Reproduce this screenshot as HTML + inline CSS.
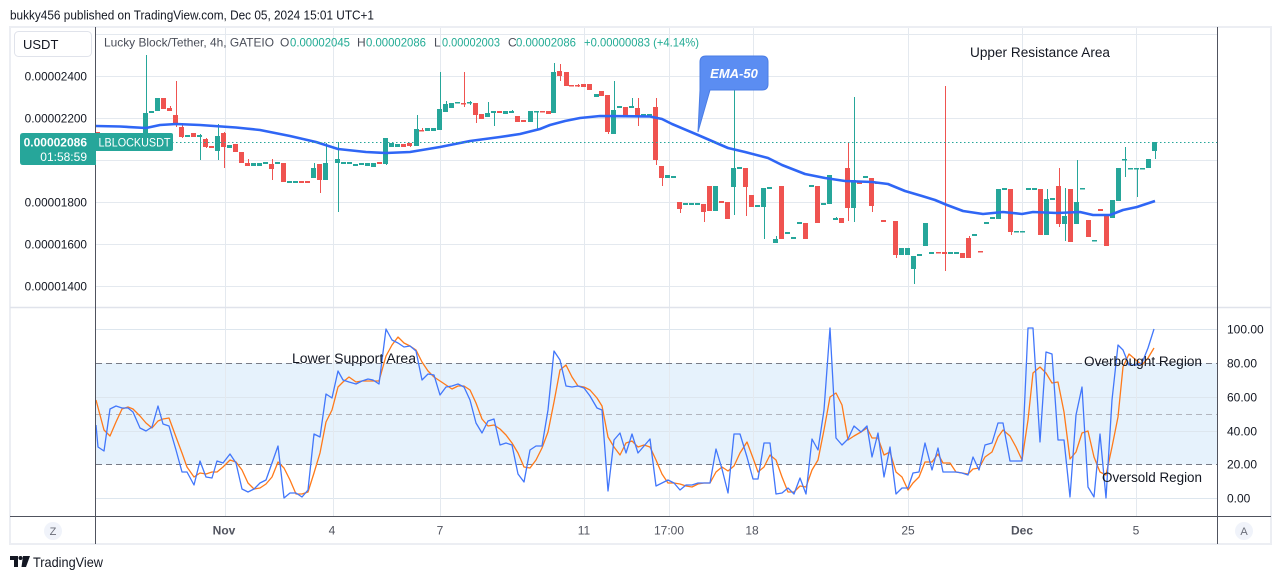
<!DOCTYPE html>
<html><head><meta charset="utf-8"><style>
html,body{margin:0;padding:0;background:#fff;}
svg{display:block;font-family:"Liberation Sans",Arial,sans-serif;}
</style></head><body>
<svg width="1281" height="579" viewBox="0 0 1281 579" xmlns="http://www.w3.org/2000/svg">
<defs>
<clipPath id="mc"><rect x="96" y="28" width="1121" height="279"/></clipPath>
<clipPath id="oc"><rect x="96" y="308" width="1121" height="208"/></clipPath>
</defs>
<rect width="1281" height="579" fill="#fff"/>
<text x="10" y="19.5" font-size="13" fill="#131722" textLength="364" lengthAdjust="spacingAndGlyphs">bukky456 published on TradingView.com, Dec 05, 2024 15:01 UTC+1</text>

<!-- frame -->
<rect x="10" y="27" width="1261" height="517" fill="none" stroke="#eceef3" stroke-width="2"/>

<!-- main gridlines -->
<g stroke="#e4e9ef" stroke-width="1">
<line x1="96" y1="34.5" x2="1217" y2="34.5"/>
<line x1="96" y1="76.5" x2="1217" y2="76.5"/>
<line x1="96" y1="118.5" x2="1217" y2="118.5"/>
<line x1="96" y1="160.5" x2="1217" y2="160.5"/>
<line x1="96" y1="202.5" x2="1217" y2="202.5"/>
<line x1="96" y1="244.5" x2="1217" y2="244.5"/>
<line x1="96" y1="286.5" x2="1217" y2="286.5"/>
</g>

<!-- oscillator band -->
<rect x="96" y="363" width="1121" height="101.5" fill="#e6f2fc"/>
<g stroke="#dde6ee" stroke-width="1">
<line x1="96" y1="329.5" x2="1217" y2="329.5"/>
<line x1="96" y1="397.5" x2="1217" y2="397.5"/>
<line x1="96" y1="431.5" x2="1217" y2="431.5"/>
<line x1="96" y1="498.5" x2="1217" y2="498.5"/>
</g>
<!-- vertical gridlines -->
<g stroke="#e4e9ef" stroke-width="1">
<line x1="225.5" y1="28" x2="225.5" y2="516"/>
<line x1="333.5" y1="28" x2="333.5" y2="516"/>
<line x1="440.5" y1="28" x2="440.5" y2="516"/>
<line x1="584.5" y1="28" x2="584.5" y2="516"/>
<line x1="669.5" y1="28" x2="669.5" y2="516"/>
<line x1="753.5" y1="28" x2="753.5" y2="516"/>
<line x1="908.5" y1="28" x2="908.5" y2="516"/>
<line x1="1022.5" y1="28" x2="1022.5" y2="516"/>
<line x1="1136.5" y1="28" x2="1136.5" y2="516"/>
</g>
<g stroke-width="1" stroke-dasharray="6 4">
<line x1="96" y1="363.5" x2="1217" y2="363.5" stroke="#787b86"/>
<line x1="96" y1="414.5" x2="1217" y2="414.5" stroke="#b2b5be"/>
<line x1="96" y1="464.5" x2="1217" y2="464.5" stroke="#787b86"/>
</g>

<!-- candles -->
<g clip-path="url(#mc)">
<g fill="#26a69a">
<rect x="143" y="113" width="5" height="20"/><rect x="146" y="55" width="1" height="95"/>
<rect x="149" y="111" width="5" height="2"/>
<rect x="155" y="98" width="5" height="13"/>
<rect x="185" y="135" width="5" height="2"/>
<rect x="197" y="135" width="5" height="2"/><rect x="200" y="134" width="1" height="26"/>
<rect x="215" y="136" width="5" height="15"/><rect x="218" y="124" width="1" height="36"/>
<rect x="227" y="145" width="5" height="3"/>
<rect x="251" y="163" width="5" height="3"/>
<rect x="257" y="163" width="5" height="3"/>
<rect x="263" y="162" width="5" height="2"/>
<rect x="275" y="162" width="5" height="2"/>
<rect x="287" y="181" width="5" height="2"/>
<rect x="293" y="181" width="5" height="2"/>
<rect x="311" y="168" width="5" height="10"/><rect x="314" y="163" width="1" height="15"/>
<rect x="323" y="163" width="5" height="17"/><rect x="326" y="143" width="1" height="37"/>
<rect x="335" y="159" width="5" height="4"/><rect x="338" y="142" width="1" height="70"/>
<rect x="341" y="162" width="5" height="2"/>
<rect x="347" y="162" width="5" height="2"/>
<rect x="353" y="164" width="5" height="2"/>
<rect x="359" y="163" width="5" height="2"/>
<rect x="365" y="163" width="5" height="3"/>
<rect x="371" y="163" width="5" height="4"/>
<rect x="383" y="138" width="5" height="26"/><rect x="386" y="138" width="1" height="27"/>
<rect x="389" y="143" width="5" height="4"/>
<rect x="395" y="144" width="5" height="3"/>
<rect x="414" y="129" width="5" height="17"/><rect x="417" y="115" width="1" height="31"/>
<rect x="425" y="128" width="5" height="3"/>
<rect x="431" y="128" width="5" height="3"/>
<rect x="437" y="109" width="5" height="21"/><rect x="440" y="72" width="1" height="58"/>
<rect x="443" y="104" width="5" height="8"/><rect x="446" y="101" width="1" height="11"/>
<rect x="449" y="103" width="5" height="5"/>
<rect x="455" y="102" width="5" height="1.5"/>
<rect x="467" y="102" width="5" height="1.5"/><rect x="470" y="101" width="1" height="4"/>
<rect x="485" y="113" width="5" height="4"/><rect x="488" y="102" width="1" height="15"/>
<rect x="491" y="111" width="5" height="2"/><rect x="494" y="111" width="1" height="15"/>
<rect x="503" y="111" width="5" height="3"/>
<rect x="509" y="111" width="5" height="2"/><rect x="512" y="110" width="1" height="3"/>
<rect x="528" y="111" width="5" height="11"/>
<rect x="534" y="111" width="5" height="1.5"/><rect x="537" y="111" width="1" height="18"/>
<rect x="551" y="72" width="5" height="41"/><rect x="554" y="63" width="1" height="50"/>
<rect x="594" y="94" width="5" height="3"/>
<rect x="611" y="110" width="5" height="24"/><rect x="614" y="81" width="1" height="53"/>
<rect x="617" y="106" width="5" height="2"/>
<rect x="629" y="106" width="5" height="2"/><rect x="632" y="98" width="1" height="10"/>
<rect x="641" y="114" width="5" height="2"/>
<rect x="647" y="114" width="5" height="2"/>
<rect x="665" y="175" width="5" height="3"/>
<rect x="671" y="176" width="5" height="2"/>
<rect x="683" y="203" width="5" height="2"/>
<rect x="689" y="203" width="5" height="2"/>
<rect x="695" y="203" width="5" height="2"/>
<rect x="713" y="186" width="5" height="25"/>
<rect x="731" y="168" width="5" height="19"/><rect x="734" y="81" width="1" height="134"/>
<rect x="737" y="167" width="5" height="2"/>
<rect x="755" y="205" width="5" height="2"/>
<rect x="761" y="188" width="5" height="19"/><rect x="764" y="188" width="1" height="51"/>
<rect x="767" y="187" width="5" height="2"/>
<rect x="773" y="239" width="5" height="4"/><rect x="776" y="236" width="1" height="7"/>
<rect x="785" y="232" width="5" height="2"/>
<rect x="791" y="237" width="5" height="2"/>
<rect x="797" y="222" width="5" height="2"/>
<rect x="809" y="185" width="5" height="2"/>
<rect x="821" y="203" width="5" height="2"/>
<rect x="827" y="175" width="5" height="29"/>
<rect x="833" y="218" width="5" height="2"/><rect x="836" y="217" width="1" height="3"/>
<rect x="851" y="180" width="5" height="28"/><rect x="854" y="97" width="1" height="125"/>
<rect x="863" y="176" width="5" height="2"/>
<rect x="899" y="248" width="5" height="7"/>
<rect x="905" y="248" width="5" height="7"/>
<rect x="911" y="256" width="5" height="13"/><rect x="914" y="256" width="1" height="28"/>
<rect x="917" y="254" width="5" height="2"/>
<rect x="923" y="223" width="5" height="23"/>
<rect x="929" y="252" width="5" height="2"/>
<rect x="948" y="252" width="5" height="2"/>
<rect x="954" y="252" width="5" height="2"/>
<rect x="972" y="234" width="5" height="2"/>
<rect x="984" y="222" width="5" height="2"/>
<rect x="990" y="217" width="5" height="2"/>
<rect x="996" y="189" width="5" height="30"/>
<rect x="1002" y="188" width="5" height="2"/>
<rect x="1014" y="231" width="5" height="1.5"/>
<rect x="1020" y="231" width="5" height="1.5"/>
<rect x="1026" y="188" width="5" height="2"/>
<rect x="1032" y="188" width="5" height="2"/>
<rect x="1044" y="199" width="5" height="36"/><rect x="1047" y="189" width="1" height="46"/>
<rect x="1050" y="198" width="5" height="2"/>
<rect x="1062" y="216" width="5" height="8"/><rect x="1065" y="188" width="1" height="53"/>
<rect x="1074" y="202" width="5" height="22"/><rect x="1077" y="160" width="1" height="64"/>
<rect x="1080" y="188" width="5" height="1.5"/>
<rect x="1092" y="240" width="5" height="1.5"/>
<rect x="1110" y="200" width="5" height="18"/>
<rect x="1116" y="168" width="5" height="33"/>
<rect x="1122" y="159" width="5" height="1.5"/><rect x="1125" y="147" width="1" height="30"/>
<rect x="1128" y="168" width="5" height="1.5"/>
<rect x="1134" y="168" width="5" height="1.5"/><rect x="1137" y="168" width="1" height="29"/>
<rect x="1140" y="168" width="5" height="1.5"/>
<rect x="1146" y="159" width="5" height="9"/>
<rect x="1152" y="142" width="5" height="9"/><rect x="1155" y="142" width="1" height="17"/>
</g>
<g fill="#ef5350">
<rect x="95" y="132" width="5" height="3"/>
<rect x="161" y="98" width="5" height="11"/>
<rect x="167" y="108" width="5" height="3"/><rect x="170" y="106" width="1" height="5"/>
<rect x="173" y="115" width="5" height="10"/><rect x="176" y="81" width="1" height="46"/>
<rect x="179" y="127" width="5" height="10"/><rect x="182" y="123" width="1" height="15"/>
<rect x="191" y="133" width="5" height="4"/>
<rect x="203" y="139" width="5" height="8"/><rect x="206" y="138" width="1" height="10"/>
<rect x="209" y="146" width="5" height="2"/>
<rect x="221" y="133" width="5" height="14"/><rect x="224" y="132" width="1" height="36"/>
<rect x="233" y="144" width="5" height="8"/>
<rect x="239" y="152" width="5" height="11"/>
<rect x="245" y="163" width="5" height="3"/><rect x="248" y="159" width="1" height="7"/>
<rect x="269" y="164" width="5" height="5"/><rect x="272" y="159" width="1" height="21"/>
<rect x="281" y="163" width="5" height="19"/>
<rect x="299" y="181" width="5" height="2"/>
<rect x="305" y="181" width="5" height="2"/>
<rect x="317" y="164" width="5" height="16"/><rect x="320" y="164" width="1" height="29"/>
<rect x="377" y="162" width="5" height="2"/>
<rect x="401" y="144" width="5" height="3"/>
<rect x="407" y="143" width="5" height="3"/><rect x="410" y="143" width="1" height="4"/>
<rect x="419" y="130" width="5" height="1.5"/><rect x="422" y="128" width="1" height="3"/>
<rect x="461" y="103" width="5" height="1.5"/><rect x="464" y="72" width="1" height="35"/>
<rect x="473" y="103" width="5" height="12"/><rect x="476" y="103" width="1" height="20"/>
<rect x="479" y="114" width="5" height="5"/>
<rect x="497" y="111" width="5" height="2"/>
<rect x="515" y="116" width="5" height="6"/>
<rect x="521" y="120" width="5" height="2"/>
<rect x="540" y="111" width="5" height="1.5"/>
<rect x="546" y="111" width="5" height="3"/>
<rect x="557" y="71" width="5" height="5"/><rect x="560" y="64" width="1" height="17"/>
<rect x="564" y="72" width="5" height="14"/>
<rect x="569" y="85" width="5" height="1.5"/>
<rect x="575" y="85" width="5" height="1.5"/><rect x="578" y="84" width="1" height="3"/>
<rect x="581" y="84" width="5" height="3"/>
<rect x="587" y="84" width="5" height="6"/>
<rect x="599" y="91" width="5" height="5"/>
<rect x="605" y="95" width="5" height="37"/><rect x="608" y="95" width="1" height="39"/>
<rect x="623" y="107" width="5" height="10"/>
<rect x="635" y="108" width="5" height="9"/><rect x="638" y="98" width="1" height="28"/>
<rect x="653" y="107" width="5" height="53"/><rect x="656" y="98" width="1" height="67"/>
<rect x="659" y="166" width="5" height="12"/><rect x="662" y="166" width="1" height="20"/>
<rect x="677" y="202" width="5" height="7"/><rect x="680" y="202" width="1" height="11"/>
<rect x="701" y="204" width="5" height="8"/><rect x="704" y="204" width="1" height="18"/>
<rect x="707" y="186" width="5" height="25"/>
<rect x="719" y="201" width="5" height="2"/>
<rect x="725" y="202" width="5" height="17"/>
<rect x="743" y="168" width="5" height="19"/><rect x="746" y="168" width="1" height="48"/>
<rect x="749" y="195" width="5" height="12"/>
<rect x="779" y="186" width="5" height="53"/>
<rect x="803" y="223" width="5" height="16"/>
<rect x="815" y="186" width="5" height="37"/>
<rect x="839" y="218" width="5" height="5"/>
<rect x="845" y="168" width="5" height="40"/><rect x="848" y="142" width="1" height="79"/>
<rect x="857" y="181" width="5" height="3"/>
<rect x="869" y="178" width="5" height="28"/><rect x="872" y="178" width="1" height="34"/>
<rect x="875" y="182" width="5" height="2"/>
<rect x="881" y="220" width="5" height="2"/>
<rect x="893" y="221" width="5" height="34"/><rect x="896" y="221" width="1" height="37"/>
<rect x="936" y="252" width="5" height="1.5"/>
<rect x="942" y="252" width="5" height="2"/><rect x="945" y="86" width="1" height="185"/>
<rect x="960" y="253" width="5" height="5"/>
<rect x="966" y="238" width="5" height="20"/><rect x="969" y="236" width="1" height="22"/>
<rect x="978" y="251" width="5" height="1.5"/>
<rect x="1008" y="189" width="5" height="43"/><rect x="1011" y="189" width="1" height="46"/>
<rect x="1038" y="189" width="5" height="46"/>
<rect x="1056" y="186" width="5" height="38"/><rect x="1059" y="168" width="1" height="59"/>
<rect x="1068" y="189" width="5" height="53"/>
<rect x="1086" y="220" width="5" height="17"/>
<rect x="1098" y="209" width="5" height="2"/>
<rect x="1104" y="214" width="5" height="32"/>
</g>
<!-- EMA -->
<polyline fill="none" stroke="#2f66f5" stroke-width="2.6" stroke-linejoin="round" points="96,126 120,126.5 146,128 160,125 176,124 200,125 236,127.5 260,130 290,136 316,142 338,149 366,152 386,153 410,152 440,147 470,141 500,137 520,134 540,129 550,125 565,121 580,118 600,116 650,116.5 662,119 672,124 698,135 728,148 745,152 768,158 782,165 805,174 825,178 845,181 872,182 888,184 905,191 922,196 935,200 947,205 963,211 983,214 1003,212 1022,214 1033,212 1057,213 1080,212 1093,215 1110,215 1123,210 1137,207 1155,201"/>
<!-- price line -->
<line x1="96" y1="142.5" x2="1217" y2="142.5" stroke="#26a69a" stroke-width="1" stroke-dasharray="1.5 2.5"/>
</g>

<!-- oscillator lines -->
<g clip-path="url(#oc)" fill="none" stroke-width="1.3" stroke-linejoin="round">
<polyline stroke="#ff7a1a" points="96,400 104,430 110,436 116,422 122,409 128,407 133,409 140,416 146,423 152,428 158,421 163,419 169,418 176,437 182,453 187,467 194,477 200,473 206,474 212,472 217,472 223,467 230,460 236,462 242,470 248,483 254,489 260,488 266,484 272,477 278,462 284,468 290,480 296,494 302,494 308,492 314,473 320,453 326,422 332,410 338,387 343,382 349,377 356,382 362,381 368,381 373,381 379,381 386,356 392,345 398,337 404,343 410,346 416,350 422,362 428,371 434,377 440,381 446,385 452,389 458,386 464,386 470,390 476,403 482,419 488,426 494,425 500,429 506,435 512,443 518,453 524,467 530,468 536,460 542,448 548,432 554,402 560,370 566,365 572,377 578,386 584,387 590,390 597,398 602,406 608,437 614,447 620,455 626,443 632,441 638,447 644,445 650,447 656,460 662,474 668,483 674,483 680,484 686,486 692,487 698,484 704,483 710,483 716,472 722,467 728,471 734,466 740,453 747,442 753,458 758,472 764,467 770,455 776,460 782,477 788,492 794,492 800,486 806,487 812,470 818,460 824,430 830,397 836,393 842,405 848,440 854,436 861,432 867,428 872,438 878,438 884,455 890,452 896,472 902,477 908,490 913,483 919,477 925,462 932,462 938,454 943,463 950,463 956,472 962,473 968,474 973,469 979,468 985,457 992,452 998,437 1003,430 1010,436 1016,447 1022,460 1028,420 1033,373 1040,367 1046,373 1052,383 1058,382 1064,412 1070,459 1076,452 1082,433 1088,431 1094,457 1100,472 1106,475 1112,447 1118,417 1123,367 1129,354 1136,360 1142,365 1148,358 1154,348"/>
<polyline stroke="#4277fb" points="96,425 98,447 104,451 110,409 116,406 122,408 128,408 133,412 140,428 146,431 152,427 158,406 163,424 169,426 176,450 182,472 187,472 194,485 200,461 206,477 212,478 217,461 223,463 230,454 236,463 242,489 248,492 254,489 260,483 266,480 272,463 278,446 284,498 290,493 296,493 302,497 308,490 314,434 320,437 326,394 332,398 338,371 343,380 349,382 356,384 362,381 368,379 373,380 379,384 386,329 392,340 398,343 404,347 410,346 416,351 422,380 428,374 434,375 440,395 446,387 452,386 458,384 464,387 470,400 476,423 482,433 488,421 494,419 500,445 506,443 512,445 518,474 524,482 530,450 536,446 542,446 548,410 554,351 560,360 566,386 572,387 578,386 584,388 590,396 597,408 602,410 608,491 614,440 620,433 626,453 632,434 638,453 644,446 650,439 656,486 662,483 668,480 674,483 680,490 686,485 692,485 698,483 704,483 710,483 716,449 722,469 728,493 734,434 740,434 747,457 753,479 758,479 764,443 770,443 776,494 782,493 788,488 794,494 800,478 806,494 812,439 818,450 824,410 830,328 836,438 842,445 848,439 854,426 861,432 867,426 872,457 878,433 884,477 890,447 896,494 902,488 908,488 913,473 919,472 925,443 932,470 938,448 943,472 950,472 956,472 962,473 968,475 973,457 979,470 985,445 992,443 998,423 1003,423 1010,461 1016,461 1022,461 1028,328 1033,328 1040,442 1046,352 1052,354 1058,440 1064,440 1070,497 1076,415 1082,387 1088,487 1094,497 1100,434 1106,498 1112,400 1118,345 1123,350 1129,365 1136,365 1142,363 1148,348 1154,329"/>
</g>

<!-- structural lines -->
<line x1="10" y1="307.5" x2="1271" y2="307.5" stroke="#e0e3eb" stroke-width="1.5"/>
<line x1="95.5" y1="27" x2="95.5" y2="544" stroke="#50535e" stroke-width="1"/>
<line x1="1217.5" y1="27" x2="1217.5" y2="544" stroke="#50535e" stroke-width="1"/>
<line x1="10" y1="516.5" x2="1271" y2="516.5" stroke="#50535e" stroke-width="1"/>

<!-- annotations -->
<g font-size="13.5" fill="#131722">
<text x="970" y="57" textLength="140" lengthAdjust="spacingAndGlyphs">Upper Resistance Area</text>
<text x="292" y="363" textLength="124" lengthAdjust="spacingAndGlyphs">Lower Support Area</text>
<text x="1084" y="366" textLength="118" lengthAdjust="spacingAndGlyphs">Overbought Region</text>
<text x="1102" y="482" textLength="100" lengthAdjust="spacingAndGlyphs">Oversold Region</text>
</g>

<!-- EMA callout -->
<path d="M706,56 H762 Q768,56 768,62 V84 Q768,90 762,90 H710 L698,132 L700,90 Q700,90 700,84 V62 Q700,56 706,56 Z" fill="#5b8df2" stroke="#4a7de6" stroke-width="1"/>
<text x="734" y="78" font-size="13" font-weight="bold" font-style="italic" fill="#fff" text-anchor="middle">EMA-50</text>

<!-- legend -->
<g font-size="12">
<text x="104" y="46.5" fill="#4a4e59" textLength="170" lengthAdjust="spacingAndGlyphs">Lucky Block/Tether, 4h, GATEIO</text>
<text x="280" y="46.5" fill="#4a4e59">O</text>
<text x="290" y="46.5" fill="#22ab94" textLength="60" lengthAdjust="spacingAndGlyphs">0.00002045</text>
<text x="357" y="46.5" fill="#4a4e59">H</text>
<text x="366" y="46.5" fill="#22ab94" textLength="60" lengthAdjust="spacingAndGlyphs">0.00002086</text>
<text x="434" y="46.5" fill="#4a4e59">L</text>
<text x="442" y="46.5" fill="#22ab94" textLength="58" lengthAdjust="spacingAndGlyphs">0.00002003</text>
<text x="508" y="46.5" fill="#4a4e59">C</text>
<text x="516" y="46.5" fill="#22ab94" textLength="60" lengthAdjust="spacingAndGlyphs">0.00002086</text>
<text x="584" y="46.5" fill="#22ab94" textLength="115" lengthAdjust="spacingAndGlyphs">+0.00000083 (+4.14%)</text>
</g>

<!-- left axis -->
<rect x="14.5" y="31.5" width="77" height="25" rx="4" fill="#fff" stroke="#e0e3eb"/>
<text x="23" y="49" font-size="13" fill="#131722">USDT</text>
<g font-size="11.8" fill="#131722" text-anchor="end">
<text x="87" y="80.5">0.00002400</text>
<text x="87" y="122.5">0.00002200</text>
<text x="87" y="206.5">0.00001800</text>
<text x="87" y="248.5">0.00001600</text>
<text x="87" y="290.5">0.00001400</text>
</g>
<path d="M23,133 H96 V165 H23 Q20,165 20,162 V136 Q20,133 23,133 Z" fill="#26a69a"/>
<text x="87" y="146.5" font-size="12" font-weight="bold" fill="#fff" text-anchor="end">0.00002086</text>
<text x="87" y="161" font-size="12" fill="#fff" text-anchor="end">01:58:59</text>
<path d="M96,133 H171 Q173,133 173,135 V149 Q173,151 171,151 H96 Z" fill="#26a69a"/>
<text x="134.5" y="146.5" font-size="12" fill="#fff" text-anchor="middle" textLength="72" lengthAdjust="spacingAndGlyphs">LBLOCKUSDT</text>

<!-- right oscillator axis -->
<g font-size="12" fill="#131722">
<text x="1227" y="333.5">100.00</text>
<text x="1227" y="367.5">80.00</text>
<text x="1227" y="401.5">60.00</text>
<text x="1227" y="435.5">40.00</text>
<text x="1227" y="468.5">20.00</text>
<text x="1227" y="502.5">0.00</text>
</g>

<!-- time axis -->
<g font-size="12" fill="#50535e" text-anchor="middle">
<text x="224" y="534.5" font-weight="bold">Nov</text>
<text x="332" y="534.5">4</text>
<text x="440" y="534.5">7</text>
<text x="584" y="534.5">11</text>
<text x="669" y="534.5">17:00</text>
<text x="752" y="534.5">18</text>
<text x="908" y="534.5">25</text>
<text x="1022" y="534.5" font-weight="bold">Dec</text>
<text x="1136" y="534.5">5</text>
</g>
<circle cx="53" cy="531" r="9" fill="#f0f3fa"/>
<text x="53" y="535" font-size="11" fill="#6a6d78" text-anchor="middle">Z</text>
<circle cx="1244" cy="531" r="9" fill="#f0f3fa"/>
<text x="1244" y="535" font-size="11" fill="#6a6d78" text-anchor="middle">A</text>

<!-- TradingView logo -->
<g fill="#131722">
<path d="M10,556 H18 V567 H14 V560 H10 Z"/>
<circle cx="20.5" cy="558" r="2"/>
<path d="M23,556 H30 L26,567 H21.5 Z"/>
</g>
<text x="33" y="567" font-size="14" fill="#131722" textLength="70" lengthAdjust="spacingAndGlyphs">TradingView</text>
</svg>
</body></html>
